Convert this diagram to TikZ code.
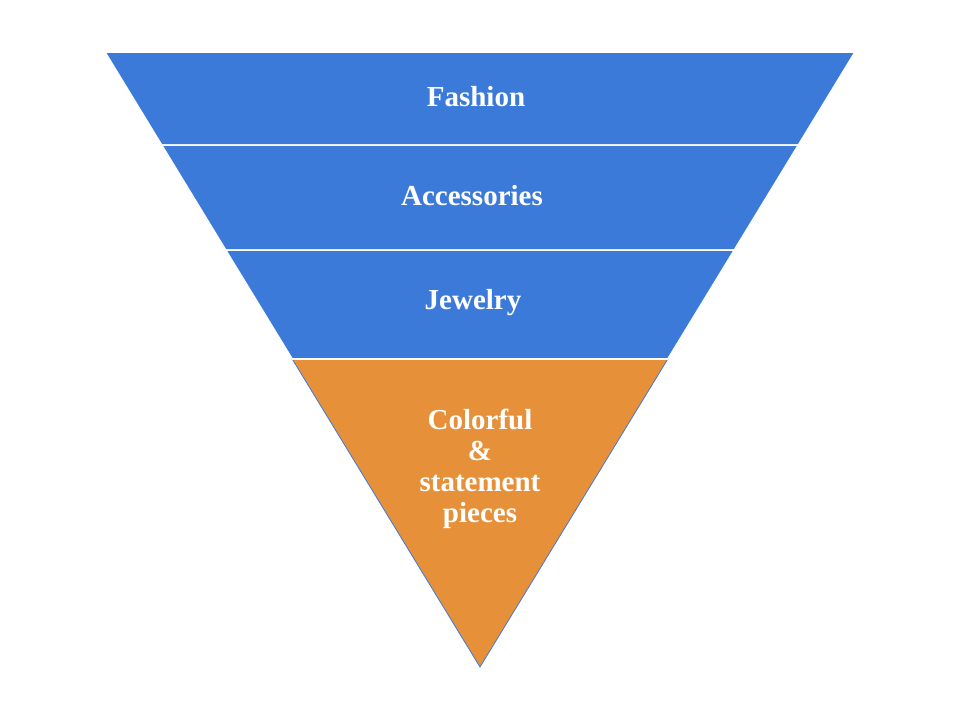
\documentclass[tikz,border=0pt]{standalone}
\usepackage{fontspec}
\setmainfont{Liberation Serif}
\definecolor{funnelblue}{HTML}{3C7ADA}
\definecolor{funnelorange}{HTML}{E6913A}
\tikzset{
  band/.style={fill=funnelblue, draw=white, line width=1.5pt},
  tip/.style={fill=funnelorange, draw=funnelblue, line width=0.8pt},
  lbl/.style={text=white, font=\fontsize{29}{35}\selectfont\bfseries, align=center}
}
\begin{document}
\begin{tikzpicture}[x=1pt,y=-1pt]
\useasboundingbox (0,0) rectangle (960,720);

% bands, top to bottom
\draw[band] (105,52) -- (855,52) -- (798.3,145) -- (161.7,145) -- cycle;
\draw[band] (161.7,145) -- (798.3,145) -- (734.3,250) -- (225.7,250) -- cycle;
\draw[band] (225.7,250) -- (734.3,250) -- (667.8,359) -- (292.2,359) -- cycle;
\draw[tip] (292.2,359) -- (667.8,359) -- (480,667) -- cycle;
\draw[white, line width=1.5pt] (292.2,359) -- (667.8,359);

\node[lbl] (fashion) at (476,97) {Fashion};
\node[lbl] (accessories) at (472,196) {Accessories};
\node[lbl] (jewelry) at (473,303) {Jewelry};
\node[lbl] (pieces) at (480,469) {Colorful\\[-4pt]\&\\[-4pt]statement\\[-4pt]pieces};
\end{tikzpicture}
\end{document}
